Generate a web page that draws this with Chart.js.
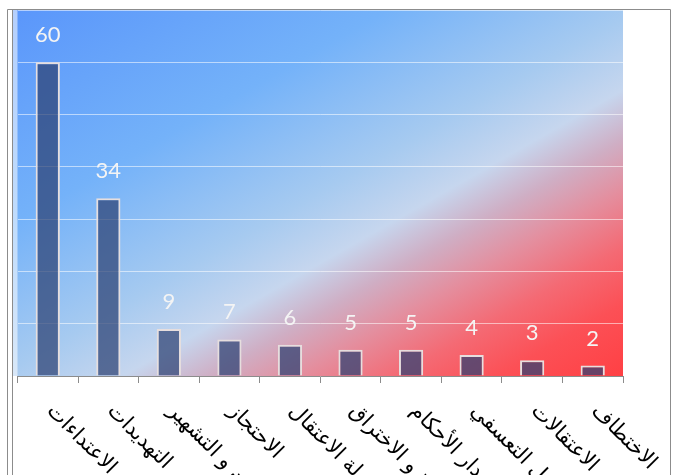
<!DOCTYPE html>
<html>
<head>
<meta charset="utf-8">
<script src="https://cdn.jsdelivr.net/npm/chart.js@4/dist/chart.umd.min.js"></script>
<style>
html,body{margin:0;padding:0;background:#fff;}
#marco{position:relative;width:677px;height:475px;}
</style>
</head>
<body>
<div id="marco"><canvas id="graficaCasos"></canvas></div>
<script>
// categorias y valores
const categorias = [
"الاعتداءات","التهديدات","الطعن و التشهير","الاحتجاز","محاولة الاعتقال",
"القرصنة و الاختراق","إصدار الأحكام","الفصل التعسفي","الاعتقالات","الاختطاف"
];
const valores = [60, 34, 9, 7, 6, 5, 5, 4, 3, 2];
const ejeMax = 70;
const ejePaso = 10;

// fondo degradado del area de trazado y marco gris
const fondo = {
id: "fondo",
beforeDraw(chart){
const ctx = chart.ctx;
const a = chart.chartArea;
const x0 = 13;
const dx = 0.496, dy = 0.868;
const L = (a.right - x0) * dx + (a.bottom - a.top) * dy;
const g = ctx.createLinearGradient(x0, a.top, x0 + L * dx, a.top + L * dy);
g.addColorStop(0, "#5a96fb");
g.addColorStop(0.3, "#74b2f9");
g.addColorStop(0.5, "#a6caf0");
g.addColorStop(0.6, "#c6d6ee");
g.addColorStop(0.67, "#cfaec4");
g.addColorStop(0.74, "#e48e9e");
g.addColorStop(0.82, "#f46a74");
g.addColorStop(0.9, "#fc5056");
g.addColorStop(1, "#ff4044");
ctx.save();
ctx.fillStyle = g;
ctx.fillRect(x0, a.top, a.right - x0, a.bottom - a.top);
ctx.fillStyle = "rgba(255,255,255,0.55)";
ctx.fillRect(x0, a.top, a.left - x0, a.bottom - a.top);
ctx.strokeStyle = "#8c8c8c";
ctx.lineWidth = 1;
ctx.beginPath();
ctx.moveTo(7.5, 480); ctx.lineTo(7.5, 9.5); ctx.lineTo(670.5, 9.5); ctx.lineTo(670.5, 480);
ctx.moveTo(12.5, 9.5); ctx.lineTo(12.5, 480);
ctx.stroke();
ctx.restore();
}
};

// numeros encima de cada barra
const valoresBarras = {
id: "valoresBarras",
afterDatasetsDraw(chart){
const ctx = chart.ctx;
const meta = chart.getDatasetMeta(0);
ctx.save();
ctx.fillStyle = "#f4f4f4";
ctx.font = "22px Lato";
ctx.textAlign = "center";
ctx.textBaseline = "middle";
meta.data.forEach((barra, i) => {
ctx.fillText(String(valores[i]), barra.x, barra.y - 27);
});
ctx.restore();
}
};

// etiquetas del eje x giradas hacia abajo a la derecha
const etiquetasGiradas = {
id: "etiquetasGiradas",
afterDraw(chart){
const ctx = chart.ctx;
const escala = chart.scales.x;
ctx.save();
ctx.fillStyle = "#000";
ctx.font = "21px 'DejaVu Sans'";
ctx.direction = "rtl";
ctx.textAlign = "left";
ctx.textBaseline = "middle";
categorias.forEach((txt, i) => {
const x = escala.getPixelForTick(i);
ctx.save();
ctx.translate(x + 2, escala.bottom + 25);
ctx.rotate(Math.PI / 4);
ctx.fillText(txt, 0, 0);
ctx.restore();
});
ctx.restore();
}
};

new Chart(document.getElementById("graficaCasos"), {
type: "bar",
data: {
labels: categorias,
datasets: [{
data: valores,
backgroundColor: "rgba(45,65,115,0.72)",
borderColor: "#e6dede",
borderWidth: 2,
barPercentage: 0.4,
categoryPercentage: 1
}]
},
options: {
responsive: true,
maintainAspectRatio: false,
animation: false,
layout: {
padding: { left: 17.5, top: 10, right: 54, bottom: 92 }
},
plugins: {
legend: { display: false },
tooltip: { enabled: false }
},
scales: {
x: {
grid: { offset: true, drawOnChartArea: false, tickLength: 7, color: "#8c8c8c" },
border: { color: "#8c8c8c" },
ticks: { display: false }
},
y: {
min: 0,
max: ejeMax,
ticks: { stepSize: ejePaso, display: false },
grid: { color: "rgba(255,255,255,0.55)", drawTicks: false },
border: { display: false }
}
}
},
plugins: [fondo, valoresBarras, etiquetasGiradas]
});
</script>
</body>
</html>
